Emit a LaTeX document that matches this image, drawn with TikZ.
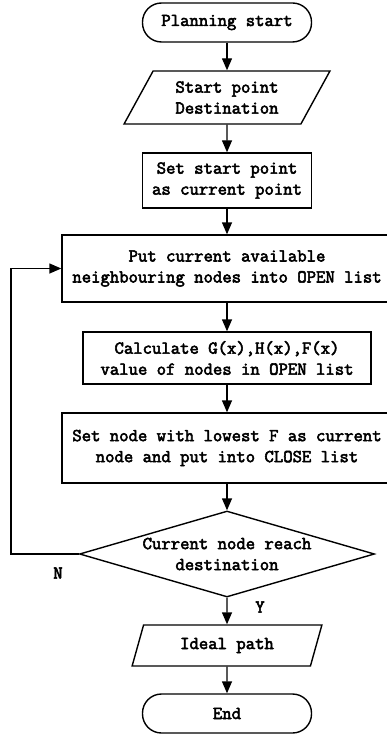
\documentclass[tikz,border=0pt]{standalone}
\usepackage{fontspec}
\newfontfamily\flowfont[FakeBold=3]{Latin Modern Mono}
\usetikzlibrary{shapes.geometric,arrows.meta}

\begin{document}
\begin{tikzpicture}[x=1pt,y=-1pt,
    base/.style={draw,line width=1.4pt,align=center,
      font=\flowfont\fontsize{18.2}{21}\selectfont},
    term/.style={base,rectangle,rounded corners=19pt,
      minimum width=169pt,minimum height=39pt},
    proc/.style={base,rectangle,inner sep=0pt},
    io/.style={base,trapezium,trapezium stretches=true,inner sep=0pt},
    dec/.style={base,diamond,inner sep=-3pt,aspect=3.43,
      minimum width=295pt,minimum height=86pt},
    lbl/.style={font=\flowfont\fontsize{18.2}{21}\selectfont},
    arw/.style={line width=1.4pt,-{Triangle[width=10pt,length=12pt]}} ]
  \useasboundingbox (0,0) rectangle (387,735);
  \node[term] (Start) at (227,22.5) {Planning start};
  \node[io,trapezium left angle=58,trapezium right angle=122,
    minimum width=206pt,minimum height=53pt] (Input) at (227,97.5)
    {Start point\\Destination};
  \node[proc,minimum width=169pt,minimum height=55pt] (SetStart)
    at (227,180.5) {Set start point\\as current point};
  \node[proc,minimum width=330pt,minimum height=67pt] (PutOpen)
    at (227,268.5) {Put current available\\neighbouring nodes into OPEN list};
  \node[proc,minimum width=288pt,minimum height=52pt] (Calc)
    at (227,358) {Calculate G(x),H(x),F(x)\\value of nodes in OPEN list};
  \node[proc,minimum width=330pt,minimum height=70pt] (SetLow)
    at (227,448) {Set node with lowest F as current\\node and put into CLOSE list};
  \node[dec] (Reach) at (227,554) {Current node reach\\destination};
  \node[io,trapezium left angle=67,trapezium right angle=113,
    minimum width=190pt,minimum height=41pt] (Path) at (227,645.5)
    {Ideal path};
  \node[term] (End) at (227,713.5) {End};
  \node[lbl] (No) at (58,573) {N};
  \node[lbl] (Yes) at (260,607) {Y};
  \draw[arw] (Start) -- (Input);
  \draw[arw] (Input) -- (SetStart);
  \draw[arw] (SetStart) -- (PutOpen);
  \draw[arw] (PutOpen) -- (Calc);
  \draw[arw] (Calc) -- (SetLow);
  \draw[arw] (SetLow) -- (Reach);
  \draw[arw] (Reach) -- (Path);
  \draw[arw] (Path) -- (End);
  \draw[arw] (Reach.west) -- ++(-68,0) |- (PutOpen.west);
\end{tikzpicture}
\end{document}
